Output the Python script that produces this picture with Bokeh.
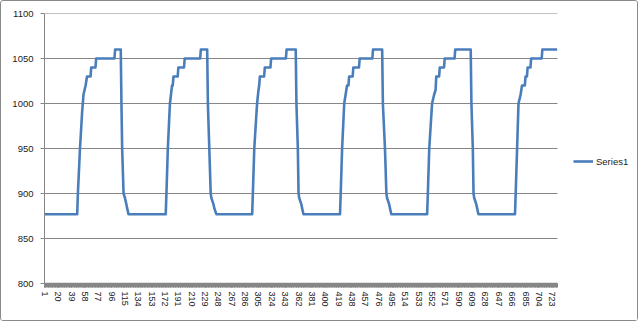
from bokeh.plotting import figure
from bokeh.models import FixedTicker, Range1d, Legend, LegendItem
from bokeh.embed import file_html
from bokeh.resources import INLINE

# --- data: vertices of the series (sample index, reading) ---
sample_index = [
    1, 47, 48, 51, 54, 55, 56, 59, 61, 66, 67, 73, 74, 100, 101, 109, 110, 111, 113, 115, 117, 118, 120,
    173, 174, 176, 179, 182, 183, 184, 190, 191, 199, 200, 222, 223, 232, 233, 235, 237, 238, 241, 242, 245,
    296, 297, 299, 303, 305, 306, 307, 313, 314, 322, 323, 344, 345, 358, 359, 361, 362, 363, 366, 367, 369,
    421, 422, 424, 427, 430, 431, 433, 434, 439, 440, 448, 449, 467, 468, 481, 482, 485, 487, 488, 491, 492, 494,
    545, 546, 548, 552, 555, 557, 558, 562, 563, 569, 570, 584, 585, 607, 608, 610, 611, 612, 615, 616, 618,
    670, 671, 673, 675, 678, 680, 684, 685, 687, 688, 692, 693, 708, 709, 730,
]
reading = [
    877, 877, 900, 950, 990, 1000, 1010, 1020, 1030, 1030, 1040, 1040, 1050, 1050, 1060, 1060, 1000, 950, 900, 895, 888, 884, 877,
    877, 900, 950, 1000, 1020, 1020, 1030, 1030, 1040, 1040, 1050, 1050, 1060, 1060, 1000, 950, 900, 895, 888, 884, 877,
    877, 900, 950, 1000, 1015, 1020, 1030, 1030, 1040, 1040, 1050, 1050, 1060, 1060, 1000, 950, 900, 895, 888, 884, 877,
    877, 900, 950, 1000, 1015, 1020, 1020, 1030, 1030, 1040, 1040, 1050, 1050, 1060, 1060, 1000, 950, 900, 895, 888, 884, 877,
    877, 900, 950, 1000, 1010, 1015, 1030, 1030, 1040, 1040, 1050, 1050, 1060, 1060, 1000, 950, 900, 895, 888, 884, 877,
    877, 900, 950, 1000, 1010, 1020, 1020, 1030, 1030, 1040, 1040, 1050, 1050, 1060, 1060,
]
n_samples = 730
x_tick_values = list(range(1, 724, 19))
y_tick_values = [800, 850, 900, 950, 1000, 1050, 1100]
series_name = "Series1"

FONT = "Liberation Sans"
GRAY = "#868686"

# frame spans to the right edge so the legend (right of the plot area) is not clipped;
# the plot area itself covers categories 0.5 .. n_samples + 0.5 (513 px of 595 px)
frame_w, plot_w = 595, 513
x_end = 0.5 + n_samples * frame_w / plot_w

p = figure(width=638, height=321, output_backend="svg", toolbar_location=None,
           x_range=Range1d(0.5, x_end), y_range=Range1d(800, 1100),
           min_border_left=43, min_border_right=0, min_border_top=12, min_border_bottom=39,
           styles={"border": "1px solid #8a8a8a", "border-radius": "3px"})
p.outline_line_color = None
p.background_fill_color = "white"
p.xgrid.grid_line_color = None
p.ygrid.grid_line_color = None

# horizontal gridlines limited to the plot area
p.segment(x0=[0.5] * len(y_tick_values), x1=[n_samples + 0.5] * len(y_tick_values),
          y0=y_tick_values, y1=y_tick_values, line_color=GRAY, line_width=1)

r = p.line(sample_index, reading, line_color="#4A7EBB", line_width=2.6, line_join="round")

# y axis
p.yaxis.ticker = FixedTicker(ticks=y_tick_values)
p.yaxis.axis_line_color = GRAY
p.yaxis.major_tick_line_color = GRAY
p.yaxis.major_tick_out = 4
p.yaxis.major_tick_in = 0
p.yaxis.minor_tick_line_color = None
p.yaxis.major_label_standoff = 7
p.yaxis.major_label_text_font = FONT
p.yaxis.major_label_text_font_size = "9.5px"
p.yaxis.major_label_text_color = "#222222"

# x axis (category axis with a tick mark for every category)
p.xaxis.bounds = (0.5, n_samples + 0.5)
p.xaxis.ticker = FixedTicker(ticks=x_tick_values,
                             minor_ticks=[i + 0.5 for i in range(0, n_samples + 1)])
p.xaxis.major_label_overrides = {t: str(t) for t in x_tick_values}
p.xaxis.major_label_orientation = "vertical"
p.xaxis.axis_line_color = GRAY
p.xaxis.axis_line_width = 1.5
p.xaxis.major_tick_line_color = GRAY
p.xaxis.major_tick_out = 4
p.xaxis.major_tick_in = 0
p.xaxis.minor_tick_line_color = GRAY
p.xaxis.minor_tick_out = 4
p.xaxis.minor_tick_in = 0
p.xaxis.major_label_standoff = 4
p.xaxis.major_label_text_font = FONT
p.xaxis.major_label_text_font_size = "9px"
p.xaxis.major_label_text_color = "#222222"

legend = Legend(items=[LegendItem(label=series_name, renderers=[r])],
                location=(529, 116), orientation="vertical",
                padding=0, margin=0, spacing=0,
                glyph_width=20, glyph_height=12, label_height=12,
                label_standoff=3, border_line_color=None,
                background_fill_alpha=0,
                label_text_font=FONT, label_text_font_size="9.5px",
                label_text_color="#222222")
p.add_layout(legend, "center")

open("out.html", "w").write(file_html(p, INLINE))
